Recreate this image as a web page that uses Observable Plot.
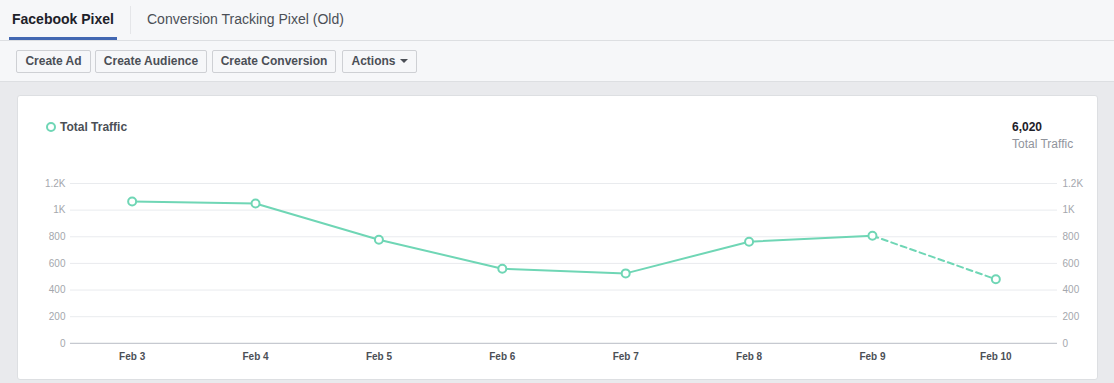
<!DOCTYPE html>
<html>
<head>
<meta charset="utf-8">
<script src="https://cdn.jsdelivr.net/npm/d3@7"></script>
<script src="https://cdn.jsdelivr.net/npm/@observablehq/plot@0.6"></script>
<style>
  html, body { margin: 0; padding: 0; }
  body { width: 1114px; height: 383px; background: #e9eaed; font-family: "Liberation Sans", Arial, Helvetica, sans-serif; position: relative; overflow: hidden; }
  #top { position: absolute; left: 0; top: 0; width: 1114px; height: 81px; background: #f6f7f9; border-bottom: 1px solid #dddfe2; }
  #tabline { position: absolute; left: 0; top: 40px; width: 1114px; height: 1px; background: #dddfe2; }
  .tab { position: absolute; top: 11px; font-size: 14px; color: #4b4f56; }
  #tab1 { left: 12px; font-weight: bold; color: #1d2129; }
  #tab2 { left: 147px; }
  #tabsep { position: absolute; left: 130px; top: 6px; width: 1px; height: 28px; background: #e5e6e9; }
  #tabbar { position: absolute; left: 9px; top: 37px; width: 108px; height: 3px; background: #4267b2; }
  .btn { position: absolute; top: 50px; height: 21px; line-height: 21px; border: 1px solid #ced0d4; border-radius: 2px; background: #f6f7f9; font-size: 12px; font-weight: bold; color: #4b4f56; text-align: center; box-sizing: content-box; }
  .caret { display: inline-block; width: 0; height: 0; border-left: 4px solid transparent; border-right: 4px solid transparent; border-top: 4px solid #4b4f56; vertical-align: middle; margin-left: 4px; margin-top: -2px; }
  #card { position: absolute; left: 17px; top: 95px; width: 1079px; height: 283px; background: #fff; border: 1px solid #dddfe2; border-radius: 3px; }
  #legend { position: absolute; left: 28px; top: 24px; font-size: 12px; font-weight: bold; color: #4b4f56; }
  #legend .dot { display: inline-block; width: 6px; height: 6px; border: 2px solid #6fd6b5; border-radius: 50%; vertical-align: -1px; margin-right: 4px; }
  #total { position: absolute; left: 994px; top: 24px; font-size: 12px; }
  #total .num { font-weight: bold; color: #1d2129; }
  #total .lab { color: #90949c; margin-top: 3px; }
  #chart { position: absolute; left: 0px; top: 74px; }
</style>
</head>
<body>
<div id="top">
  <div id="tabsep"></div>
  <div class="tab" id="tab1">Facebook Pixel</div>
  <div class="tab" id="tab2">Conversion Tracking Pixel (Old)</div>
  <div id="tabline"></div>
  <div id="tabbar"></div>
  <div class="btn" style="left:16px;width:73px;">Create Ad</div>
  <div class="btn" style="left:95px;width:110px;">Create Audience</div>
  <div class="btn" style="left:212px;width:122px;">Create Conversion</div>
  <div class="btn" style="left:342px;width:73px;">Actions<span class="caret"></span></div>
</div>
<div id="card">
  <div id="legend"><span class="dot"></span>Total Traffic</div>
  <div id="total"><div class="num">6,020</div><div class="lab">Total Traffic</div></div>
  <div id="chart"></div>
</div>
<script>
const dates = ["Feb 3", "Feb 4", "Feb 5", "Feb 6", "Feb 7", "Feb 8", "Feb 9", "Feb 10"];
const traffic = [1065, 1050, 778, 560, 525, 763, 808, 481];
const yTicks = [0, 200, 400, 600, 800, 1000, 1200];

const data = dates.map((d, i) => ({date: d, value: traffic[i]}));
const solid = data.slice(0, data.length - 1);
const dashed = data.slice(data.length - 2);
const green = "#6fd6b5";
const fmt = d => d >= 1000 ? (d / 1000) + "K" : String(d);

const chart = Plot.plot({
  width: 1080,
  height: 200,
  marginLeft: 52,
  marginRight: 40,
  marginTop: 13,
  marginBottom: 27,
  style: {fontFamily: "Liberation Sans, Arial, sans-serif", background: "transparent"},
  x: {type: "point", domain: dates, padding: 0.5, round: false},
  y: {domain: [0, 1200]},
  marks: [
    Plot.gridY(yTicks, {stroke: "#e9ebee", strokeOpacity: 1}),
    Plot.ruleY([0], {stroke: "#bec2c9"}),
    Plot.axisY(yTicks, {anchor: "left", tickSize: 0, tickPadding: 5, tickFormat: fmt, fill: "#a4a7ad", fontSize: 10, label: null}),
    Plot.axisY(yTicks, {anchor: "right", tickSize: 0, tickPadding: 5, tickFormat: fmt, fill: "#a4a7ad", fontSize: 10, label: null}),
    Plot.axisX({tickSize: 0, tickPadding: 10, fill: "#4b4f56", fontWeight: "bold", fontSize: 10, label: null}),
    Plot.line(solid, {x: "date", y: "value", stroke: green, strokeWidth: 2}),
    Plot.line(dashed, {x: "date", y: "value", stroke: green, strokeWidth: 2, strokeDasharray: "6,4"}),
    Plot.dot(data, {x: "date", y: "value", r: 4, fill: "white", stroke: green, strokeWidth: 2})
  ]
});
document.getElementById("chart").appendChild(chart);
</script>
</body>
</html>
